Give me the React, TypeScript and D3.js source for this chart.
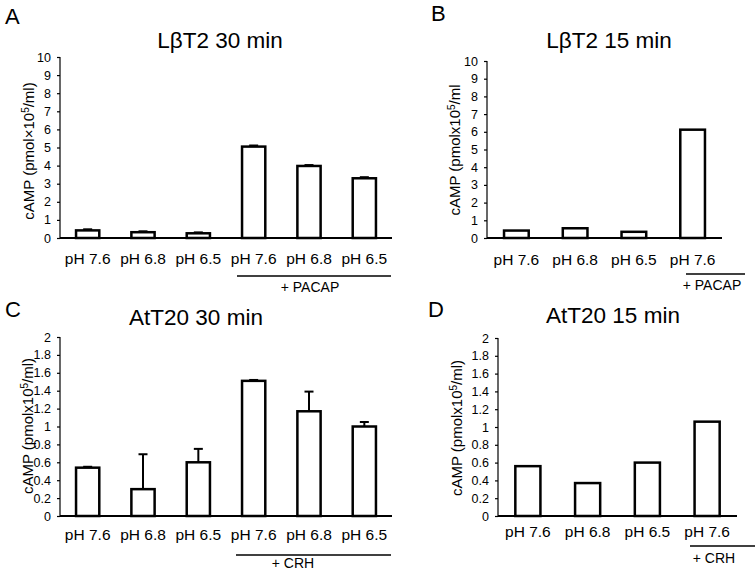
import React, { useRef, useEffect } from 'react';
import * as d3 from 'd3';

// categories
const labels30 = ['pH 7.6', 'pH 6.8', 'pH 6.5', 'pH 7.6', 'pH 6.8', 'pH 6.5'];
const labels15 = ['pH 7.6', 'pH 6.8', 'pH 6.5', 'pH 7.6'];

// series values
const lbt2Min30 = [0.42, 0.32, 0.26, 5.05, 3.98, 3.3];
const lbt2Min30Err = [0.06, 0.05, 0.05, 0.06, 0.05, 0.06];
const lbt2Min15 = [0.42, 0.55, 0.35, 6.12];
const att20Min30 = [0.54, 0.3, 0.6, 1.51, 1.17, 1.0];
const att20Min30Err = [0.01, 0.39, 0.15, 0.01, 0.22, 0.05];
const att20Min15 = [0.56, 0.37, 0.6, 1.06];

// tick labels
const ticksLbt2 = [0, 1, 2, 3, 4, 5, 6, 7, 8, 9, 10];
const ticksAtt20 = [0, 0.2, 0.4, 0.6, 0.8, 1, 1.2, 1.4, 1.6, 1.8, 2];

const FONT = '"Liberation Sans", Arial, Helvetica, sans-serif';

interface PanelSpec {
  letter: string;
  letterPos: [number, number];
  title: string;
  titlePos: [number, number];
  yLabel: string;
  yLabelPos: [number, number];
  yLabelClose: boolean;
  x0: number;
  x1: number;
  yTop: number;
  yBottom: number;
  domainMax: number;
  ticks: number[];
  categories: string[];
  values: number[];
  errors?: number[];
  labelY: number;
  group: { text: string; lineX: [number, number]; lineY: number; textX: number; textY: number };
}

const panels: PanelSpec[] = [
  {
    letter: 'A', letterPos: [5, 24],
    title: 'LβT2 30 min', titlePos: [220, 48],
    yLabel: 'cAMP (pmol×10', yLabelPos: [34, 151], yLabelClose: true,
    x0: 60, x1: 392, yTop: 57, yBottom: 238, domainMax: 10, ticks: ticksLbt2,
    categories: labels30, values: lbt2Min30, errors: lbt2Min30Err,
    labelY: 264,
    group: { text: '+ PACAP', lineX: [237, 391], lineY: 276, textX: 310, textY: 292 }
  },
  {
    letter: 'B', letterPos: [431, 21],
    title: 'LβT2 15 min', titlePos: [609, 48],
    yLabel: 'cAMP (pmolx10', yLabelPos: [460, 150], yLabelClose: false,
    x0: 487, x1: 722, yTop: 61, yBottom: 238, domainMax: 10, ticks: ticksLbt2,
    categories: labels15, values: lbt2Min15,
    labelY: 265,
    group: { text: '+ PACAP', lineX: [686, 745], lineY: 274, textX: 712, textY: 290 }
  },
  {
    letter: 'C', letterPos: [5, 317],
    title: 'AtT20 30 min', titlePos: [196, 325],
    yLabel: 'cAMP (pmolx10', yLabelPos: [33, 426], yLabelClose: true,
    x0: 60, x1: 392, yTop: 337, yBottom: 516, domainMax: 2, ticks: ticksAtt20,
    categories: labels30, values: att20Min30, errors: att20Min30Err,
    labelY: 540,
    group: { text: '+ CRH', lineX: [236, 391], lineY: 555, textX: 293, textY: 568 }
  },
  {
    letter: 'D', letterPos: [428, 317],
    title: 'AtT20 15 min', titlePos: [613, 323],
    yLabel: 'cAMP (pmolx10', yLabelPos: [462, 428], yLabelClose: true,
    x0: 498, x1: 737, yTop: 338, yBottom: 516, domainMax: 2, ticks: ticksAtt20,
    categories: labels15, values: att20Min15,
    labelY: 537,
    group: { text: '+ CRH', lineX: [690, 755], lineY: 546, textX: 714, textY: 563 }
  }
];

const App: React.FC = () => {
  const svgRef = useRef<SVGSVGElement | null>(null);

  useEffect(() => {
    if (!svgRef.current) return;
    const svg = d3.select(svgRef.current);
    svg.selectAll('*').remove();

    svg.append('rect').attr('width', 755).attr('height', 571).attr('fill', '#fff');

    panels.forEach(p => {
      const g = svg.append('g').attr('font-family', FONT).attr('fill', '#000');

      const x = d3.scaleBand<number>()
        .domain(d3.range(p.categories.length))
        .range([p.x0, p.x1])
        .paddingInner(0.58)
        .paddingOuter(0.29);

      const y = d3.scaleLinear()
        .domain([0, p.domainMax])
        .range([p.yBottom, p.yTop]);

      // panel letter and title
      g.append('text')
        .attr('x', p.letterPos[0]).attr('y', p.letterPos[1])
        .attr('font-size', 22)
        .text(p.letter);

      g.append('text')
        .attr('x', p.titlePos[0]).attr('y', p.titlePos[1])
        .attr('text-anchor', 'middle')
        .attr('font-size', 22.5)
        .text(p.title);

      // y axis label with superscript
      const yl = g.append('text')
        .attr('transform', `translate(${p.yLabelPos[0]},${p.yLabelPos[1]}) rotate(-90)`)
        .attr('text-anchor', 'middle')
        .attr('font-size', 15);
      yl.append('tspan').text(p.yLabel);
      yl.append('tspan').attr('dy', -5).attr('font-size', 10).text('5');
      yl.append('tspan').attr('dy', 5).text(p.yLabelClose ? '/ml)' : '/ml');

      // y axis
      const yAxis = g.append('g')
        .attr('transform', `translate(${p.x0},0)`)
        .call(
          d3.axisLeft(y)
            .tickValues(p.ticks)
            .tickSize(3)
            .tickPadding(6)
            .tickFormat(d => String(+d))
        );
      yAxis.select('.domain').attr('stroke', '#000').attr('stroke-width', 1.2)
        .attr('d', `M0,${p.yTop}V${p.yBottom}`);
      yAxis.selectAll('.tick line').attr('stroke', '#000').attr('stroke-width', 1.2);
      yAxis.selectAll('.tick text')
        .attr('font-size', 12.5)
        .attr('font-family', FONT)
        .attr('fill', '#000');

      // bars
      g.selectAll('rect.bar')
        .data(p.values)
        .join('rect')
        .attr('class', 'bar')
        .attr('x', (_, i) => x(i)!)
        .attr('y', d => y(d))
        .attr('width', x.bandwidth())
        .attr('height', d => y(0) - y(d))
        .attr('fill', '#fff')
        .attr('stroke', '#000')
        .attr('stroke-width', 2.5);

      // error bars (upper only)
      if (p.errors) {
        const errs = p.errors;
        const eg = g.append('g').attr('stroke', '#000').attr('stroke-width', 2);
        p.values.forEach((v, i) => {
          const cx = x(i)! + x.bandwidth() / 2;
          eg.append('line')
            .attr('x1', cx).attr('x2', cx)
            .attr('y1', y(v)).attr('y2', y(v + errs[i]));
          eg.append('line')
            .attr('x1', cx - 4.5).attr('x2', cx + 4.5)
            .attr('y1', y(v + errs[i])).attr('y2', y(v + errs[i]));
        });
      }

      // x axis baseline
      g.append('line')
        .attr('x1', p.x0).attr('x2', p.x1)
        .attr('y1', y(0)).attr('y2', y(0))
        .attr('stroke', '#000')
        .attr('stroke-width', 2);

      // category labels
      g.selectAll('text.cat')
        .data(p.categories)
        .join('text')
        .attr('class', 'cat')
        .attr('x', (_, i) => x(i)! + x.bandwidth() / 2)
        .attr('y', p.labelY)
        .attr('text-anchor', 'middle')
        .attr('font-size', 15.5)
        .text(d => d);

      // treatment bracket
      g.append('line')
        .attr('x1', p.group.lineX[0]).attr('x2', p.group.lineX[1])
        .attr('y1', p.group.lineY).attr('y2', p.group.lineY)
        .attr('stroke', '#000')
        .attr('stroke-width', 1.5);

      g.append('text')
        .attr('x', p.group.textX).attr('y', p.group.textY)
        .attr('text-anchor', 'middle')
        .attr('font-size', 14)
        .text(p.group.text);
    });
  }, []);

  return (
    <svg
      ref={svgRef}
      width={755}
      height={571}
      style={{ position: 'absolute', left: 0, top: 0 }}
    />
  );
};

export default App;
